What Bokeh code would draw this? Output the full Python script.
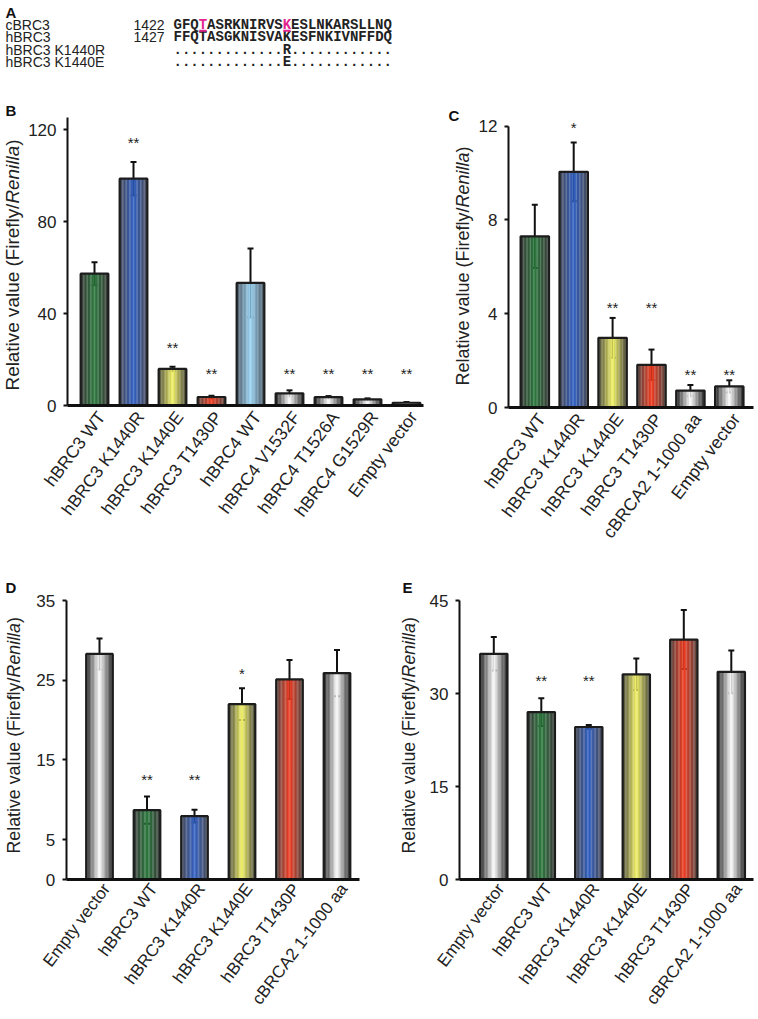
import math
from bokeh.plotting import figure
from bokeh.models import (ColumnDataSource, Range1d, FixedTicker, LinearAxis,
                          Whisker, TeeHead)
from bokeh.layouts import column, row
from bokeh.embed import file_html
from bokeh.resources import INLINE
from bokeh.core.properties import value

# ---------------------------------------------------------------- data
seq_names = ["cBRC3", "hBRC3", "hBRC3 K1440R", "hBRC3 K1440E"]
seq_starts = ["1422", "1427"]
seq_rows = ["GFQTASRKNIRVSKESLNKARSLLNQ",
            "FFQTASGKNISVAKESFNKIVNFFDQ",
            ".............R............",
            ".............E............"]
seq_highlight = [3, 13]          # highlighted residues of the cBRC3 row

b_labels = ["hBRC3 WT", "hBRC3 K1440R", "hBRC3 K1440E", "hBRC3 T1430P", "hBRC4 WT",
            "hBRC4 V1532F", "hBRC4 T1526A", "hBRC4 G1529R", "Empty vector"]
b_values = [57.3, 98.6, 15.9, 3.7, 53.3, 5.3, 3.6, 2.7, 1.2]
b_errors = [5.0, 7.3, 0.9, 0.5, 15.0, 1.3, 0.5, 0.4, 0.3]
b_stars = ["", "**", "**", "**", "", "**", "**", "**", "**"]
b_star_y = [0, 114.5, 25.3, 14.0, 0, 14.0, 14.0, 14.0, 14.0]
b_fill = ["green", "blue", "yellow", "red", "lightblue", "silver", "silver", "silver", "silver"]
b_ticks = [0, 40, 80, 120]

c_labels = ["hBRC3 WT", "hBRC3 K1440R", "hBRC3 K1440E", "hBRC3 T1430P",
            "cBRCA2 1-1000 aa", "Empty vector"]
c_values = [7.3, 10.05, 2.97, 1.82, 0.72, 0.90]
c_errors = [1.35, 1.25, 0.85, 0.65, 0.24, 0.26]
c_stars = ["", "*", "**", "**", "**", "**"]
c_star_y = [0, 11.95, 4.25, 4.25, 1.41, 1.41]
c_fill = ["green", "blue", "yellow", "red", "silver", "silver"]
c_ticks = [0, 4, 8, 12]

d_labels = ["Empty vector", "hBRC3 WT", "hBRC3 K1440R", "hBRC3 K1440E",
            "hBRC3 T1430P", "cBRCA2 1-1000 aa"]
d_values = [28.3, 8.7, 7.95, 22.0, 25.1, 25.9]
d_errors = [1.95, 1.7, 0.8, 2.0, 2.45, 2.9]
d_stars = ["", "**", "**", "*", "", ""]
d_star_y = [0, 12.5, 12.5, 25.9, 0, 0]
d_fill = ["silver", "green", "blue", "yellow", "red", "silver"]
d_ticks = [0, 5, 15, 25, 35]

e_labels = ["Empty vector", "hBRC3 WT", "hBRC3 K1440R", "hBRC3 K1440E",
            "hBRC3 T1430P", "cBRCA2 1-1000 aa"]
e_values = [36.4, 27.0, 24.6, 33.1, 38.7, 33.5]
e_errors = [2.7, 2.25, 0.3, 2.55, 4.75, 3.45]
e_stars = ["", "**", "**", "", "", ""]
e_star_y = [0, 32.1, 32.1, 0, 0, 0]
e_fill = ["silver", "green", "blue", "yellow", "red", "silver"]
e_ticks = [0, 15, 30, 45]

# ---------------------------------------------------------------- styles
PALETTES = {
    "green": ("#383a38", "#2b7a3d"),
    "blue": ("#484a56", "#2f5fc4"),
    "yellow": ("#4c4c3a", "#f4f466"),
    "red": ("#584640", "#f23a20"),
    "lightblue": ("#485664", "#9ad6f6"),
    "silver": ("#262626", "#ffffff"),
}
TEXT = "#222222"
SANS = "Liberation Sans"
MONO = "Liberation Mono"
PINK = "#e4238f"


def hex2rgb(h):
    return tuple(int(h[i:i + 2], 16) for i in (1, 3, 5))


def blend(c1, c2, f):
    a, b = hex2rgb(c1), hex2rgb(c2)
    return "#%02x%02x%02x" % tuple(int(round(x + (y - x) * f)) for x, y in zip(a, b))


def panel(letter, labels, values, errors, stars, star_y, fills, ticks, g):
    # g: page-pixel geometry of the panel
    L, T, R, B = g["box"]
    x0, sp, z, ppy = g["x0"], g["sp"], g["zero"], g["ppy"]
    p = figure(width=R - L, height=B - T,
               x_range=Range1d((L - x0) / sp, (R - x0) / sp),
               y_range=Range1d((z - B) / ppy, (z - T) / ppy),
               x_axis_type=None, y_axis_type=None,
               output_backend="svg", toolbar_location=None, min_border=0)
    p.grid.visible = False
    p.outline_line_color = None
    ax_lo = (g["ax"][0] - x0) / sp
    ax_hi = (g["ax"][1] - x0) / sp

    idx = list(range(len(values)))
    bw = g["bw"]
    K = 20
    xs, tops, cols = [], [], []
    for i, v, fk in zip(idx, values, fills):
        edge, center = PALETTES[fk]
        for j in range(K):
            off = -bw / 2 + (j + 0.5) * bw / K
            f = 1 - abs(off) / (bw / 2)
            xs.append(i + off)
            tops.append(v)
            cols.append(blend(edge, center, f ** 1.1))
    p.vbar(x=xs, top=tops, bottom=0, width=bw / K * 1.08,
           fill_color=cols, line_color=None)
    p.vbar(x=idx, top=values, bottom=0, width=bw, fill_color=None,
           line_color="#1c1c1c", line_width=2.2)

    es = ColumnDataSource(dict(x=idx, upper=[v + e for v, e in zip(values, errors)],
                               lower=[v - e for v, e in zip(values, errors)]))
    p.add_layout(Whisker(source=es, base="x", upper="upper", lower="lower",
                         line_color="#111111", line_width=2,
                         upper_head=TeeHead(size=6, line_color="#111111", line_width=2),
                         lower_head=TeeHead(size=6, line_color="#111111", line_width=2)))

    sx = [i for i, s in zip(idx, stars) if s]
    sy = [y for y, s in zip(star_y, stars) if s]
    st = [s for s in stars if s]
    p.text(x=sx, y=sy, text=st, text_align="center", text_baseline="middle",
           text_font=value(SANS), text_font_size="15px", text_color=TEXT)

    # y axis
    yax = LinearAxis(fixed_location=ax_lo, bounds=(0, g["ymax"]),
                     ticker=FixedTicker(ticks=ticks))
    yax.axis_line_width = 2
    yax.axis_line_color = "#111111"
    yax.major_tick_line_color = "#111111"
    yax.major_tick_line_width = 2
    yax.major_tick_out = 4
    yax.major_tick_in = 0
    yax.minor_tick_line_color = None
    yax.major_label_standoff = 7
    yax.major_label_text_font = SANS
    yax.major_label_text_font_size = "17px"
    yax.major_label_text_color = TEXT
    p.add_layout(yax, "left")

    # x axis with category labels
    shift = g["shift"] / sp
    tks = [i + shift for i in idx]
    xax = LinearAxis(fixed_location=0, bounds=(ax_lo, ax_hi),
                     ticker=FixedTicker(ticks=tks))
    xax.major_label_overrides = {t: lab for t, lab in zip(tks, labels)}
    xax.major_label_orientation = math.radians(53)
    xax.axis_line_width = 3
    xax.axis_line_color = "#111111"
    xax.major_tick_line_color = None
    xax.minor_tick_line_color = None
    xax.major_tick_out = 0
    xax.major_tick_in = 0
    xax.major_label_standoff = g["standoff"]
    xax.major_label_text_font = SANS
    xax.major_label_text_font_size = g["lfs"]
    xax.major_label_text_color = TEXT
    p.add_layout(xax, "below")

    # y axis title with italic "Renilla"
    fs = g["fs"]
    parts = [("Relative value (Firefly/", "normal", 9.891),
             ("Renilla", "italic", 3.056),
             (")", "normal", 0.333)]
    pos = g["title"][1]
    tx = (g["title"][0] - x0) / sp
    for txt, style, em in parts:
        p.text(x=[tx], y=[(z - pos) / ppy], text=[txt], angle=math.pi / 2,
               text_align="left", text_baseline="middle", text_font=value(SANS),
               text_font_size="%.1fpx" % fs, text_font_style=style, text_color=TEXT)
        pos -= em * fs

    lx, ly = g["letter"]
    p.text(x=[(lx - x0) / sp], y=[(z - ly) / ppy], text=[letter], text_align="left",
           text_baseline="middle", text_font=value(SANS), text_font_size="15px",
           text_font_style="bold", text_color="#111111")
    return p


ROW2 = 548
geoB = dict(box=(0, 96, 440, ROW2), x0=94.0, sp=39.0, zero=405.0, ppy=2.3, ax=(67, 423),
            ymax=125.2, bw=0.71, shift=7, standoff=8, lfs="17.5px", fs=18.9,
            title=(12, 390), letter=(5, 110))
geoC = dict(box=(440, 96, 758, ROW2), x0=534.3, sp=38.9, zero=407.0, ppy=23.45,
            ax=(508, 753), ymax=12, bw=0.73, shift=7, standoff=8, lfs="17.5px", fs=18.0,
            title=(462, 385), letter=(448, 115))
geoD = dict(box=(0, ROW2, 400, 1019), x0=99.0, sp=47.5, zero=879.0, ppy=7.97,
            ax=(65.7, 359), ymax=35, bw=0.56, shift=7, standoff=6, lfs="17px", fs=17.8,
            title=(13.3, 853), letter=(5, 587))
geoE = dict(box=(400, ROW2, 758, 1019), x0=493.3, sp=47.5, zero=879.0, ppy=6.2,
            ax=(459, 753.3), ymax=45, bw=0.575, shift=7, standoff=6, lfs="17px", fs=17.8,
            title=(408, 853), letter=(402, 587))

pB = panel("B", b_labels, b_values, b_errors, b_stars, b_star_y, b_fill, b_ticks, geoB)
pC = panel("C", c_labels, c_values, c_errors, c_stars, c_star_y, c_fill, c_ticks, geoC)
pD = panel("D", d_labels, d_values, d_errors, d_stars, d_star_y, d_fill, d_ticks, geoD)
pE = panel("E", e_labels, e_values, e_errors, e_stars, e_star_y, e_fill, e_ticks, geoE)

# ---------------------------------------------------------------- panel A
pA = figure(width=758, height=96, x_range=Range1d(0, 758), y_range=Range1d(96, 0),
            x_axis_type=None, y_axis_type=None, output_backend="svg",
            toolbar_location=None, min_border=0)
pA.grid.visible = False
pA.outline_line_color = None
pA.text(x=[5], y=[3], text=["A"], text_font=value(SANS), text_font_size="15px",
        text_font_style="bold", text_baseline="top", text_color="#111111")
row_y = [24.3, 36.7, 49.3, 61.0]
pA.text(x=[5] * 4, y=row_y, text=seq_names, text_font=value(SANS), text_font_size="14px",
        text_baseline="middle", text_color=TEXT)
pA.text(x=[133, 133], y=row_y[:2], text=seq_starts, text_font=value(SANS),
        text_font_size="14px", text_baseline="middle", text_color=TEXT)
CW = 8.4
X0 = 173
seg_x, seg_y, seg_t, seg_c = [], [], [], []
for r, s in enumerate(seq_rows):
    cuts = seq_highlight if r == 0 else []
    start = 0
    pieces = []
    for h in cuts:
        pieces.append((start, s[start:h], TEXT))
        pieces.append((h, s[h], PINK))
        start = h + 1
    pieces.append((start, s[start:], TEXT))
    for col, txt, c in pieces:
        if txt:
            seg_x.append(X0 + col * CW)
            seg_y.append(row_y[r])
            seg_t.append(txt)
            seg_c.append(c)
pA.text(x=seg_x, y=seg_y, text=seg_t, text_color=seg_c, text_font=value(MONO),
        text_font_size="14px", text_font_style="bold", text_baseline="middle")
pA.segment(x0=[X0 + h * CW + 0.5 for h in seq_highlight],
           x1=[X0 + (h + 1) * CW - 0.5 for h in seq_highlight],
           y0=[row_y[0] + 6] * 2, y1=[row_y[0] + 6] * 2, line_color=PINK, line_width=2)

layout = column(pA, row(pB, pC), row(pD, pE))
open("out.html", "w").write(file_html(layout, INLINE))
